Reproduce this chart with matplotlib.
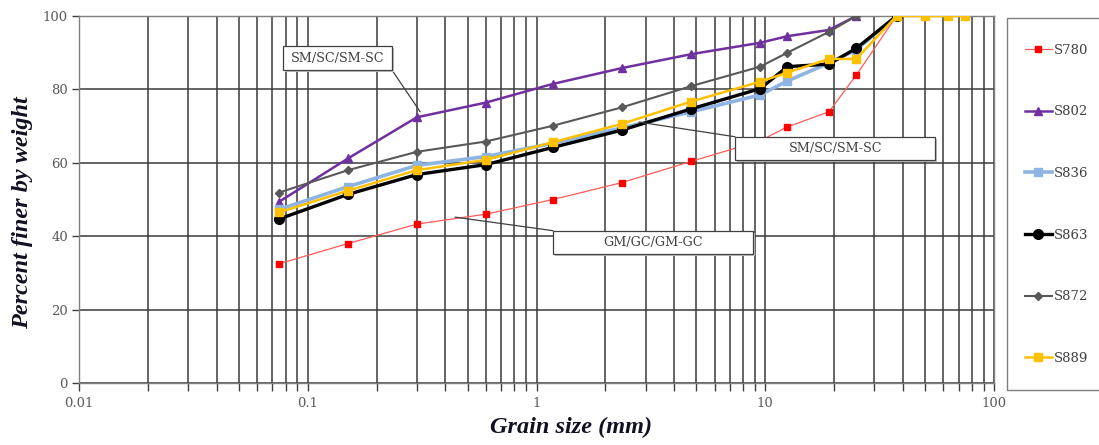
import matplotlib
matplotlib.use("Agg")
import matplotlib.pyplot as plt
from matplotlib.patches import Rectangle
from matplotlib.ticker import LogLocator, NullFormatter

# sieve sizes (mm)
sieve = [0.075, 0.15, 0.3, 0.6, 1.18, 2.36, 4.75, 9.5, 12.5, 19, 25, 37.5, 50, 63, 75]

s780 = [32.5, 38.0, 43.3, 46.0, 50.0, 54.6, 60.4, 66.0, 69.8, 73.9, 83.9, 100]
s802 = [49.4, 61.2, 72.4, 76.4, 81.5, 85.8, 89.6, 92.7, 94.5, 96.2, 100]
s836 = [47.3, 53.5, 59.3, 61.7, 65.3, 69.5, 73.9, 78.5, 82.3, 87.2, 90.8, 100]
s863 = [44.7, 51.4, 56.8, 59.5, 64.2, 68.9, 74.7, 80.2, 86.2, 86.9, 91.2, 100]
s872 = [51.9, 58.0, 63.0, 65.8, 70.1, 75.1, 80.9, 86.2, 90.0, 95.7, 100]
s889 = [46.5, 52.4, 58.0, 60.8, 65.6, 70.6, 76.7, 82.1, 84.6, 88.3, 88.3, 100, 100, 100, 100]

series = [
    ("S780", s780, dict(color="#FF5A5A", lw=0.9, marker="s", ms=5, mfc="#FF0000", mec="#FF0000")),
    ("S802", s802, dict(color="#7030A0", lw=1.8, marker="^", ms=5.5)),
    ("S836", s836, dict(color="#8DB4E2", lw=2.6, marker="s", ms=6)),
    ("S863", s863, dict(color="#000000", lw=2.4, marker="o", ms=7)),
    ("S872", s872, dict(color="#595959", lw=1.5, marker="D", ms=4)),
    ("S889", s889, dict(color="#FFC000", lw=1.8, marker="s", ms=6)),
]

fig = plt.figure(figsize=(10.99, 4.45), dpi=100)
ax = fig.add_axes([79 / 1099, 1 - 383 / 445, 915 / 1099, 367 / 445])

for name, vals, st in series:
    ax.plot(sieve[:len(vals)], vals, label=name, zorder=3, **st)

ax.set_xscale("log")
ax.set_xlim(0.01, 100)
ax.set_ylim(0, 100)
ax.xaxis.set_minor_locator(LogLocator(base=10, subs=range(2, 10)))
ax.xaxis.set_minor_formatter(NullFormatter())
ax.set_xticks([0.01, 0.1, 1, 10, 100])
ax.set_xticklabels(["0.01", "0.1", "1", "10", "100"])
ax.set_yticks([0, 20, 40, 60, 80, 100])
ax.grid(True, which="both", axis="x", color="#3A3A3A", lw=1.1, zorder=1)
ax.grid(True, which="major", axis="y", color="#3A3A3A", lw=1.1, zorder=1)
ax.set_axisbelow(True)
for sp in ax.spines.values():
    sp.set_color("#7F7F7F")
    sp.set_linewidth(1.0)
ax.tick_params(axis="x", which="both", length=6, color="#3F3F3F", width=1.0, pad=4)
ax.tick_params(axis="y", which="major", length=5, color="#3F3F3F", width=1.0, pad=3)
for lab in ax.get_xticklabels() + ax.get_yticklabels():
    lab.set_fontfamily("DejaVu Serif")
    lab.set_fontsize(9.5)
    lab.set_color("#595959")

ax.set_xlabel("Grain size (mm)", fontfamily="Liberation Serif", fontsize=17.5,
              fontweight="bold", fontstyle="italic", color="#111122")
ax.xaxis.set_label_coords(0.538, -0.093)
ax.set_ylabel("Percent finer by weight", fontfamily="Liberation Serif", fontsize=17.5,
              fontweight="bold", fontstyle="italic", color="#111122")
ax.yaxis.set_label_coords(-0.050, 0.463)


def callout(text, box, corner, target):
    x0, y0, x1, y1 = box
    ax.add_patch(Rectangle((x0 + 0.002, y0 - 0.005), x1 - x0, y1 - y0, transform=ax.transAxes,
                           fc="#BFBFBF", ec="none", zorder=5))
    ax.add_patch(Rectangle((x0, y0), x1 - x0, y1 - y0, transform=ax.transAxes,
                           fc="white", ec="#404040", lw=0.9, zorder=6))
    ax.text((x0 + x1) / 2, (y0 + y1) / 2, text, transform=ax.transAxes, ha="center",
            va="center", fontfamily="DejaVu Serif", fontsize=9.2, color="#404040", zorder=7)
    cx = x1 if corner[0] else x0
    cy = y1 if corner[1] else y0
    ax.annotate("", xy=target, xycoords="data", xytext=(cx, cy), textcoords="axes fraction",
                arrowprops=dict(arrowstyle="-", color="#404040", lw=0.9,
                                shrinkA=0, shrinkB=0), zorder=4)


callout("SM/SC/SM-SC", (0.223, 0.853, 0.342, 0.918), (1, 0), (0.31, 73.9))
callout("SM/SC/SM-SC", (0.717, 0.608, 0.936, 0.671), (0, 1), (2.8, 71.1))
callout("GM/GC/GM-GC", (0.518, 0.351, 0.737, 0.415), (0, 1), (0.44, 45.2))

# legend box on the right
fig.patches.append(Rectangle((1007 / 1099, 1 - 390 / 445), 120 / 1099, 372 / 445,
                             transform=fig.transFigure, fc="white", ec="#7F7F7F",
                             lw=1.0, clip_on=False))
leg = fig.legend(loc="upper left", bbox_to_anchor=(1018 / 1099, 1 - 37 / 445),
                 frameon=False, fontsize=9.5, labelspacing=3.69, handlelength=2.1,
                 handletextpad=0.15, borderpad=0)
for t in leg.get_texts():
    t.set_fontfamily("DejaVu Serif")
    t.set_color("#404040")

fig.savefig("out.png", dpi=100)
